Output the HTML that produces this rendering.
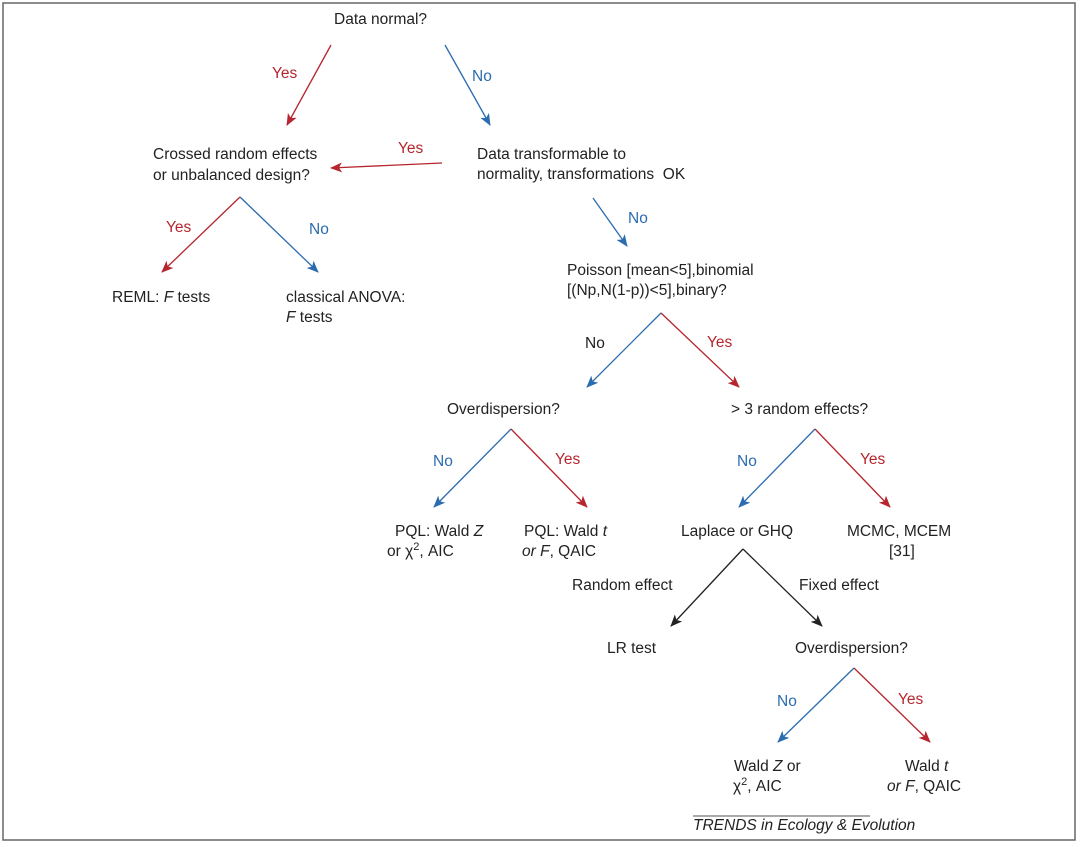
<!DOCTYPE html>
<html><head><meta charset="utf-8"><style>
html,body{margin:0;padding:0;background:#fff;width:1080px;height:847px;overflow:hidden}
svg{display:block}
text{font-family:"Liberation Sans",Arial,sans-serif;font-size:15.5px;fill:#222}
.r{fill:#b5262e}.b{fill:#2b6cb0}
</style></head><body>
<svg width="1080" height="847" viewBox="0 0 1080 847">
<defs>
<marker id="mr" markerWidth="12" markerHeight="10" refX="11" refY="5" orient="auto" markerUnits="userSpaceOnUse"><path d="M0,0 L12,5 L0,10 L3,5 z" fill="#b5262e"/></marker>
<marker id="mb" markerWidth="12" markerHeight="10" refX="11" refY="5" orient="auto" markerUnits="userSpaceOnUse"><path d="M0,0 L12,5 L0,10 L3,5 z" fill="#2b6cb0"/></marker>
<marker id="mk" markerWidth="12" markerHeight="10" refX="11" refY="5" orient="auto" markerUnits="userSpaceOnUse"><path d="M0,0 L12,5 L0,10 L3,5 z" fill="#222"/></marker>
</defs>
<rect x="3" y="3" width="1072" height="837" fill="none" stroke="#666" stroke-width="1.5"/>
<g stroke-width="1.3" fill="none">
<line x1="331" y1="45" x2="287" y2="125" stroke="#b5262e" marker-end="url(#mr)"/>
<line x1="445" y1="45" x2="490" y2="125" stroke="#2b6cb0" marker-end="url(#mb)"/>
<line x1="442" y1="163" x2="331" y2="168" stroke="#b5262e" marker-end="url(#mr)"/>
<line x1="240" y1="197" x2="162" y2="272" stroke="#b5262e" marker-end="url(#mr)"/>
<line x1="240" y1="197" x2="318" y2="272" stroke="#2b6cb0" marker-end="url(#mb)"/>
<line x1="593" y1="198" x2="627" y2="246" stroke="#2b6cb0" marker-end="url(#mb)"/>
<line x1="661" y1="313" x2="587" y2="387" stroke="#2b6cb0" marker-end="url(#mb)"/>
<line x1="661" y1="313" x2="739" y2="387" stroke="#b5262e" marker-end="url(#mr)"/>
<line x1="511" y1="429" x2="434" y2="507" stroke="#2b6cb0" marker-end="url(#mb)"/>
<line x1="511" y1="429" x2="587" y2="507" stroke="#b5262e" marker-end="url(#mr)"/>
<line x1="815" y1="429" x2="739" y2="507" stroke="#2b6cb0" marker-end="url(#mb)"/>
<line x1="815" y1="429" x2="890" y2="507" stroke="#b5262e" marker-end="url(#mr)"/>
<line x1="743" y1="549" x2="671" y2="626" stroke="#222" marker-end="url(#mk)"/>
<line x1="743" y1="549" x2="822" y2="626" stroke="#222" marker-end="url(#mk)"/>
<line x1="854" y1="668" x2="778" y2="742" stroke="#2b6cb0" marker-end="url(#mb)"/>
<line x1="854" y1="668" x2="930" y2="742" stroke="#b5262e" marker-end="url(#mr)"/>
<line x1="693" y1="816" x2="870" y2="816" stroke="#555" stroke-width="1"/>
</g>
<text x="334" y="24">Data normal?</text>
<text class="r" x="272" y="78">Yes</text>
<text class="b" x="472" y="81">No</text>
<text x="153" y="159">Crossed random effects</text>
<text x="153" y="180">or unbalanced design?</text>
<text class="r" x="398" y="153">Yes</text>
<text x="477" y="159">Data transformable to</text>
<text x="477" y="179">normality, transformations&#160; OK</text>
<text class="r" x="166" y="232">Yes</text>
<text class="b" x="309" y="234">No</text>
<text x="112" y="302">REML: <tspan font-style="italic">F</tspan> tests</text>
<text x="286" y="302">classical ANOVA:</text>
<text x="286" y="322"><tspan font-style="italic">F</tspan> tests</text>
<text class="b" x="628" y="223">No</text>
<text x="567" y="275">Poisson [mean&lt;5],binomial</text>
<text x="567" y="295">[(Np,N(1-p))&lt;5],binary?</text>
<text x="585" y="348">No</text>
<text class="r" x="707" y="347">Yes</text>
<text x="447" y="414">Overdispersion?</text>
<text x="731" y="414">&gt; 3 random effects?</text>
<text class="b" x="433" y="466">No</text>
<text class="r" x="555" y="464">Yes</text>
<text class="b" x="737" y="466">No</text>
<text class="r" x="860" y="464">Yes</text>
<text x="395" y="536">PQL: Wald <tspan font-style="italic">Z</tspan></text>
<text x="387" y="556">or χ<tspan dy="-6" font-size="11">2</tspan><tspan dy="6">, AIC</tspan></text>
<text x="524" y="536">PQL: Wald <tspan font-style="italic">t</tspan></text>
<text x="522" y="556"><tspan font-style="italic">or F</tspan>, QAIC</text>
<text x="681" y="536">Laplace or GHQ</text>
<text x="847" y="536">MCMC, MCEM</text>
<text x="889" y="556">[31]</text>
<text x="572" y="590">Random effect</text>
<text x="799" y="590">Fixed effect</text>
<text x="607" y="653">LR test</text>
<text x="795" y="653">Overdispersion?</text>
<text class="b" x="777" y="706">No</text>
<text class="r" x="898" y="704">Yes</text>
<text x="734" y="771">Wald <tspan font-style="italic">Z</tspan> or</text>
<text x="733" y="791">χ<tspan dy="-6" font-size="11">2</tspan><tspan dy="6">, AIC</tspan></text>
<text x="905" y="771">Wald <tspan font-style="italic">t</tspan></text>
<text x="887" y="791"><tspan font-style="italic">or F</tspan>, QAIC</text>
<text x="693" y="830" font-size="11.5" font-style="italic" fill="#333">TRENDS in Ecology &amp; Evolution</text>
</svg>
</body></html>
